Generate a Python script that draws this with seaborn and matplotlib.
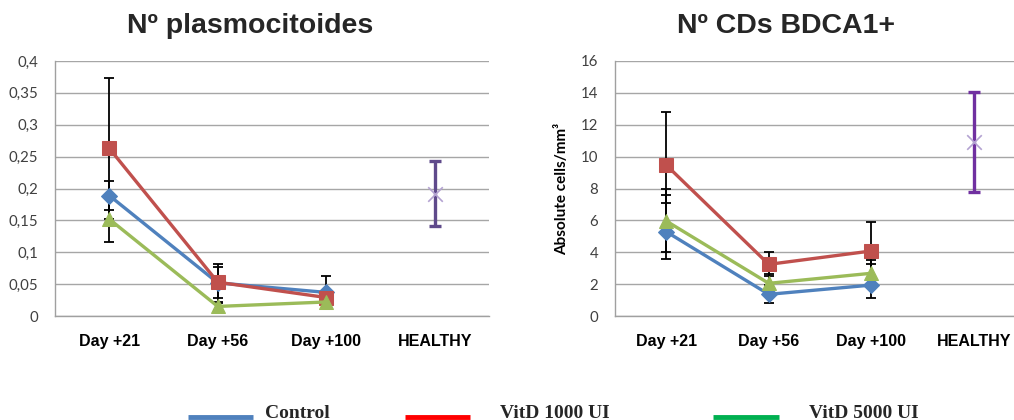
import matplotlib
matplotlib.use("Agg")
import matplotlib.pyplot as plt
from matplotlib.lines import Line2D
from matplotlib.ticker import FuncFormatter
import numpy as np
import pandas as pd
import seaborn as sns

# ---- data ----
timepoints = ["Day +21", "Day +56", "Day +100"]
categories = ["Day +21", "Day +56", "Day +100", "HEALTHY"]
groups = ["Control", "VitD 1000 UI", "VitD 5000 UI"]

# plasmacytoid DCs
pdc_control = [0.189, 0.052, 0.037]
pdc_vitd1000 = [0.263, 0.053, 0.029]
pdc_vitd5000 = [0.152, 0.015, 0.022]
pdc_control_err = [0.022, 0.030, 0.026]
pdc_vitd1000_err = [0.111, 0.024, 0.010]
pdc_vitd5000_err = [0.036, 0.006, 0.006]
pdc_healthy = 0.192
pdc_healthy_err = 0.051

# BDCA1+ DCs
bdca_control = [5.29, 1.36, 1.94]
bdca_vitd1000 = [9.47, 3.24, 4.08]
bdca_vitd5000 = [5.96, 2.05, 2.68]
bdca_control_lo = [1.73, 0.57, 0.83]
bdca_control_hi = [2.30, 0.57, 1.32]
bdca_vitd1000_lo = [2.36, 0.76, 1.84]
bdca_vitd1000_hi = [3.31, 0.76, 1.84]
bdca_vitd5000_lo = [1.96, 0.60, 0.70]
bdca_vitd5000_hi = [1.99, 0.60, 0.83]
bdca_healthy = 10.9
bdca_healthy_err = 3.13

# ---- style ----
sns.set_theme(style="white")
plt.rcParams["font.family"] = ["DejaVu Sans"]

series_colors = {"Control": "#4F81BD", "VitD 1000 UI": "#C0504D", "VitD 5000 UI": "#9BBB59"}
series_markers = {"Control": "D", "VitD 1000 UI": "s", "VitD 5000 UI": "^"}
series_msize = {"Control": 8, "VitD 1000 UI": 9.5, "VitD 5000 UI": 9.5}
legend_colors = {"Control": "#4F81BD", "VitD 1000 UI": "#FF0000", "VitD 5000 UI": "#00B050"}

fig = plt.figure(figsize=(10.14, 4.2), dpi=100)
W, H = 1014, 420


def px_axes(x0, x1, ytop, ybot):
    return fig.add_axes([x0 / W, 1 - ybot / H, (x1 - x0) / W, (ybot - ytop) / H])


ax1 = px_axes(55, 489, 61, 316)
ax2 = px_axes(615, 1025, 61, 316)


def draw_panel(ax, values, lows, highs, healthy, healthy_err, healthy_color,
               ymax, ystep, fmt):
    pos = np.arange(len(timepoints))
    # error bars first so markers sit on top
    for g in groups:
        ax.errorbar(pos, values[g], yerr=[lows[g], highs[g]], fmt="none",
                    ecolor="black", elinewidth=1.3, capsize=3.5, capthick=1.3,
                    zorder=2)
    for g in groups:
        df = pd.DataFrame({"pos": pos, "value": values[g]})
        sns.lineplot(data=df, x="pos", y="value", ax=ax, color=series_colors[g],
                     marker=series_markers[g], markersize=series_msize[g],
                     markeredgecolor=series_colors[g], linewidth=2.4,
                     legend=False, zorder=3)
    hpos = len(timepoints)
    ax.errorbar([hpos], [healthy], yerr=[[healthy_err], [healthy_err]], fmt="none",
                ecolor=healthy_color, elinewidth=2.4, capsize=4, capthick=2.4,
                zorder=2)
    sns.scatterplot(x=[hpos], y=[healthy], ax=ax, marker="x", s=110,
                    color="#B3A2D1", linewidth=1.2, zorder=4, legend=False)

    ax.set_xlim(-0.5, len(categories) - 0.5)
    ax.set_ylim(0, ymax)
    ax.set_yticks(np.arange(0, ymax + ystep / 2, ystep))
    ax.yaxis.set_major_formatter(FuncFormatter(fmt))
    ax.set_xticks(np.arange(len(categories)))
    ax.set_xticklabels(categories, fontfamily="Liberation Sans",
                       fontweight="bold", fontsize=11.5, color="black")
    for lab in ax.get_yticklabels():
        lab.set_fontfamily("Lato")
        lab.set_fontsize(10.8)
        lab.set_color("#404040")
    ax.tick_params(axis="x", length=0, pad=13)
    ax.tick_params(axis="y", length=0, pad=12)
    ax.grid(axis="y", color="#A6A6A6", linewidth=1.0)
    ax.grid(axis="x", visible=False)
    ax.set_axisbelow(True)
    for side in ("top", "right"):
        ax.spines[side].set_visible(False)
    for side in ("left", "bottom"):
        ax.spines[side].set_color("#A0A0A0")
        ax.spines[side].set_linewidth(1.0)
    ax.set_xlabel("")
    ax.set_ylabel("")


def comma_fmt(v, _):
    s = f"{v:.2f}".rstrip("0").rstrip(".")
    return s.replace(".", ",")


def int_fmt(v, _):
    return f"{int(round(v))}"


draw_panel(ax1,
           {"Control": pdc_control, "VitD 1000 UI": pdc_vitd1000, "VitD 5000 UI": pdc_vitd5000},
           {"Control": pdc_control_err, "VitD 1000 UI": pdc_vitd1000_err, "VitD 5000 UI": pdc_vitd5000_err},
           {"Control": pdc_control_err, "VitD 1000 UI": pdc_vitd1000_err, "VitD 5000 UI": pdc_vitd5000_err},
           pdc_healthy, pdc_healthy_err, "#5F4A8B", 0.4, 0.05, comma_fmt)

draw_panel(ax2,
           {"Control": bdca_control, "VitD 1000 UI": bdca_vitd1000, "VitD 5000 UI": bdca_vitd5000},
           {"Control": bdca_control_lo, "VitD 1000 UI": bdca_vitd1000_lo, "VitD 5000 UI": bdca_vitd5000_lo},
           {"Control": bdca_control_hi, "VitD 1000 UI": bdca_vitd1000_hi, "VitD 5000 UI": bdca_vitd5000_hi},
           bdca_healthy, bdca_healthy_err, "#7030A0", 16, 2, int_fmt)

ax2.set_ylabel("Absolute cells/mm³", fontfamily="Lato", fontweight="bold",
               fontsize=11, color="black")
ax2.yaxis.set_label_coords(-46 / 410, 0.5)

# panel titles
fig.text(250 / W, 1 - 33 / H, "Nº plasmocitoides", ha="center", va="baseline",
         fontfamily="Liberation Sans", fontweight="bold", fontsize=20.5)
fig.text(786 / W, 1 - 33 / H, "Nº CDs BDCA1+", ha="center", va="baseline",
         fontfamily="Liberation Sans", fontweight="bold", fontsize=20.5)

# legend along the bottom edge
legend_items = [("Control", 188, 253, 265),
                ("VitD 1000 UI", 405, 470, 500),
                ("VitD 5000 UI", 713, 779, 809)]
for name, lx0, lx1, tx in legend_items:
    fig.add_artist(Line2D([lx0 / W, lx1 / W], [1 - 417 / H, 1 - 417 / H],
                          transform=fig.transFigure, color=legend_colors[name],
                          linewidth=3.5, solid_capstyle="butt"))
    fig.text(tx / W, 1 - 418 / H, name, ha="left", va="baseline",
             fontfamily="Liberation Serif", fontweight="bold", fontsize=14)

fig.savefig("out.png", dpi=100)
